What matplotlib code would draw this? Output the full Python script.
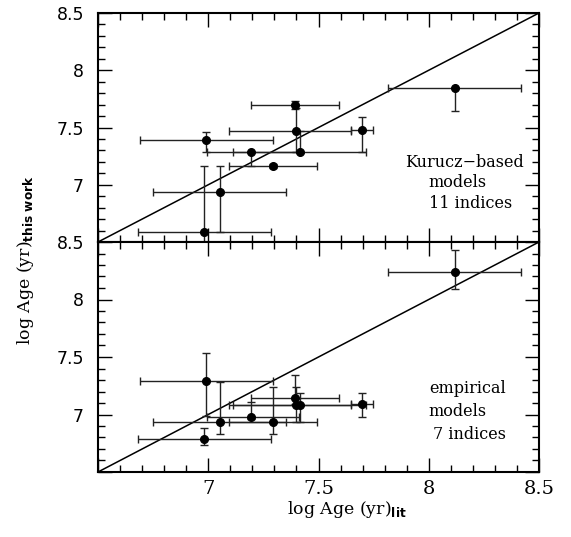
import matplotlib
matplotlib.use("Agg")
import matplotlib.pyplot as plt
from matplotlib.ticker import MultipleLocator, FuncFormatter

plt.rcParams['mathtext.fontset'] = 'dejavusans'

# literature ages (x) and x-error bounds, same for both panels
x_lit = [8.12, 7.395, 7.396, 7.416, 7.697, 7.192, 6.990, 7.295, 7.052, 6.982]
x_lo  = [7.817, 7.194, 7.094, 7.114, 7.647, 6.993, 6.690, 7.094, 6.751, 6.683]
x_hi  = [8.420, 7.594, 7.647, 7.714, 7.749, 7.410, 7.292, 7.495, 7.354, 7.285]

# top panel: Kurucz-based models, 11 indices
y_kur     = [7.845, 7.697, 7.469, 7.289, 7.475, 7.289, 7.391, 7.164, 6.934, 6.585]
y_kur_up  = [0.00, 0.035, 0.20, 0.18, 0.115, 0.00, 0.072, 0.02, 0.233, 0.58]
y_kur_dn  = [0.20, 0.035, 0.18, 0.01, 0.186, 0.125, 0.102, 0.02, 0.35, 0.10]

# bottom panel: empirical models, 7 indices
y_emp     = [8.24, 7.141, 7.086, 7.086, 7.088, 6.981, 7.291, 6.932, 6.932, 6.784]
y_emp_up  = [0.19, 0.20, 0.15, 0.10, 0.095, 0.125, 0.245, 0.31, 0.353, 0.096]
y_emp_dn  = [0.15, 0.05, 0.15, 0.15, 0.11, 0.02, 0.30, 0.10, 0.10, 0.05]

fig = plt.figure(figsize=(5.71, 5.37), dpi=100)
L, R = 98/571, 539/571
ax1 = fig.add_axes([L, 1-242/537, R-L, (242-13)/537])
ax2 = fig.add_axes([L, 1-472/537, R-L, (472-242)/537])

def fmt(v, pos):
    if abs(v-6.5) < 1e-6:
        return ''
    return f'{v:g}'

for ax, y, up, dn in [(ax1, y_kur, y_kur_up, y_kur_dn), (ax2, y_emp, y_emp_up, y_emp_dn)]:
    ax.plot([6.5, 8.5], [6.5, 8.5], color='black', lw=1.1)
    xerr = [[xv - lo for xv, lo in zip(x_lit, x_lo)], [hi - xv for xv, hi in zip(x_lit, x_hi)]]
    ax.errorbar(x_lit, y, xerr=xerr, yerr=[dn, up], fmt='o', color='black',
                ecolor='#222222', elinewidth=1.0, capsize=3, capthick=1.0, markersize=5.5)
    ax.set_xlim(6.5, 8.5)
    ax.set_ylim(6.5, 8.5)
    ax.xaxis.set_major_locator(MultipleLocator(0.5))
    ax.xaxis.set_minor_locator(MultipleLocator(0.1))
    ax.yaxis.set_major_locator(MultipleLocator(0.5))
    ax.yaxis.set_minor_locator(MultipleLocator(0.1))
    ax.tick_params(which='both', direction='in', top=True, right=True, width=1.0)
    ax.tick_params(which='major', length=10)
    ax.tick_params(which='minor', length=5)
    ax.tick_params(axis='y', pad=10)
    ax.yaxis.set_major_formatter(FuncFormatter(fmt))
    ax.xaxis.set_major_formatter(FuncFormatter(fmt))
    for sp in ax.spines.values():
        sp.set_linewidth(1.5)
    for lab in ax.get_yticklabels():
        lab.set_fontfamily('DejaVu Sans')
        lab.set_fontsize(12.5)

ax1.tick_params(axis='x', labelbottom=False)
for lab in ax2.get_xticklabels():
    lab.set_fontfamily('DejaVu Serif')
    lab.set_fontsize(14)
ax2.tick_params(axis='x', pad=6)

ax1.text(0.832, 0.345, 'Kurucz\u2212based', ha='center', va='center', family='DejaVu Serif', fontsize=11.5, transform=ax1.transAxes)
ax1.text(0.816, 0.258, 'models', ha='center', va='center', family='DejaVu Serif', fontsize=11.5, transform=ax1.transAxes)
ax1.text(0.844, 0.166, '11 indices', ha='center', va='center', family='DejaVu Serif', fontsize=11.5, transform=ax1.transAxes)

ax2.text(0.75, 0.365, 'empirical', ha='left', va='center', family='DejaVu Serif', fontsize=11.5, transform=ax2.transAxes)
ax2.text(0.75, 0.261, 'models', ha='left', va='center', family='DejaVu Serif', fontsize=11.5, transform=ax2.transAxes)
ax2.text(0.76, 0.165, '7 indices', ha='left', va='center', family='DejaVu Serif', fontsize=11.5, transform=ax2.transAxes)

fig.text(0.607, 1-510/537, r'log Age (yr)$_{\mathbf{lit}}$', ha='center', va='center',
         family='DejaVu Serif', fontsize=12.5)
fig.text(0.045, 1-260/537, r'log Age (yr)$_{\mathbf{this\ work}}$', ha='center', va='center',
         rotation=90, family='DejaVu Serif', fontsize=12.5)

fig.savefig('out.png', dpi=100)
